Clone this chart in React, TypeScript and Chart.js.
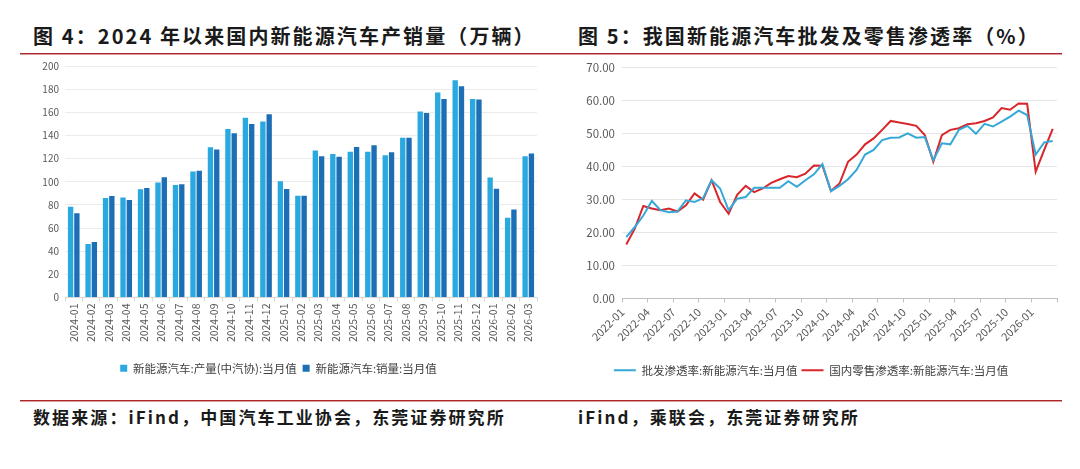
import React, { useEffect, useRef } from "react";
import { Chart, registerables } from "chart.js";

Chart.register(...registerables);

const FONT = "'Noto Sans CJK SC', 'Noto Sans', sans-serif";

// ---- Figure 4 data (万辆) ----
const barMonths = [
  "2024-01", "2024-02", "2024-03", "2024-04", "2024-05", "2024-06", "2024-07", "2024-08", "2024-09",
  "2024-10", "2024-11", "2024-12", "2025-01", "2025-02", "2025-03", "2025-04", "2025-05", "2025-06",
  "2025-07", "2025-08", "2025-09", "2025-10", "2025-11", "2025-12", "2026-01", "2026-02", "2026-03",
];
const productionValues = [
  78.5, 46.2, 86, 86.3, 93.5, 99.3, 97.3, 108.8, 129.9, 145.5, 155.3, 152, 100.4, 88, 127, 124, 126, 126,
  123, 138, 160.7, 177, 187.6, 171.4, 103.6, 69, 122,
];
const salesValues = [
  72.7, 47.9, 87.7, 84.3, 94.7, 103.9, 97.8, 109.4, 127.8, 142, 150, 158.4, 93.8, 88, 122, 121.5, 130, 131.6,
  125.5, 138, 159.3, 171.4, 182.4, 171, 94, 76, 124.4,
];
const barSeriesNames = ["新能源汽车:产量(中汽协):当月值", "新能源汽车:销量:当月值"];

// ---- Figure 5 data (%) ----
const lineMonths = [
  "2022-01", "2022-02", "2022-03", "2022-04", "2022-05", "2022-06", "2022-07", "2022-08", "2022-09", "2022-10", "2022-11", "2022-12",
  "2023-01", "2023-02", "2023-03", "2023-04", "2023-05", "2023-06", "2023-07", "2023-08", "2023-09", "2023-10", "2023-11", "2023-12",
  "2024-01", "2024-02", "2024-03", "2024-04", "2024-05", "2024-06", "2024-07", "2024-08", "2024-09", "2024-10", "2024-11", "2024-12",
  "2025-01", "2025-02", "2025-03", "2025-04", "2025-05", "2025-06", "2025-07", "2025-08", "2025-09", "2025-10", "2025-11", "2025-12",
  "2026-01", "2026-02", "2026-03",
];
const wholesaleRate = [
  18.6, 21.7, 25.2, 29.6, 26.8, 26.2, 26.4, 29.8, 29.3, 30.4, 35.9, 33.4,
  26.8, 30.3, 30.8, 33.6, 33.6, 33.6, 33.6, 35.6, 33.9, 35.9, 37.7, 40.8,
  32.6, 34.2, 36.2, 39.0, 43.7, 45.1, 48.1, 48.8, 48.9, 50.1, 48.8, 49.0,
  42.0, 47.1, 46.8, 51.2, 52.4, 50.0, 53.0, 52.2, 53.7, 55.2, 57.0, 55.7,
  43.7, 47.4, 47.8,
];
const retailRate = [
  16.4, 21.2, 28.1, 27.3, 26.8, 27.3, 26.4, 28.3, 31.9, 30.0, 35.9, 29.3,
  25.7, 31.5, 34.2, 32.3, 33.4, 35.1, 36.2, 37.2, 36.8, 37.9, 40.4, 40.3,
  32.6, 34.9, 41.5, 43.7, 46.8, 48.6, 51.2, 53.9, 53.4, 53.0, 52.4, 49.6,
  41.5, 49.6, 51.2, 51.7, 52.9, 53.2, 53.9, 55.0, 57.8, 57.3, 59.2, 59.1,
  38.5, 45.1, 51.5,
];
const lineSeriesNames = ["批发渗透率:新能源汽车:当月值", "国内零售渗透率:新能源汽车:当月值"];

function BarChart() {
  const ref = useRef<HTMLCanvasElement>(null);
  useEffect(() => {
    const chart = new Chart(ref.current!, {
      type: "bar",
      data: {
        labels: barMonths,
        datasets: [
          { label: barSeriesNames[0], data: productionValues, backgroundColor: "#2AA8E0", categoryPercentage: 0.72, barPercentage: 0.85 },
          { label: barSeriesNames[1], data: salesValues, backgroundColor: "#1D6FB5", categoryPercentage: 0.72, barPercentage: 0.85 },
        ],
      },
      options: {
        responsive: false,
        animation: false,
        devicePixelRatio: 1,
        layout: { padding: { top: 4, right: 13, bottom: 2, left: 0 } },
        plugins: {
          legend: {
            position: "bottom",
            labels: { boxWidth: 7, boxHeight: 7, padding: 6, color: "#404040", font: { family: FONT, size: 11.5 } },
          },
          tooltip: { enabled: false },
        },
        scales: {
          x: {
            grid: { drawOnChartArea: false, drawTicks: true, tickLength: 4, color: "#D9D9D9", offset: true },
            border: { color: "#D9D9D9" },
            ticks: { autoSkip: false, minRotation: 90, maxRotation: 90, color: "#595959", font: { family: FONT, size: 10.5 }, padding: 2 },
            afterFit: (s: any) => { s.height = 59; },
          },
          y: {
            min: 0,
            max: 200,
            ticks: { stepSize: 20, color: "#595959", font: { family: FONT, size: 10 }, padding: 6 },
            grid: { color: "#EBEBEB", drawTicks: false },
            border: { display: false },
            afterFit: (s: any) => { s.width = 45; },
          },
        },
      },
    });
    return () => chart.destroy();
  }, []);
  return <canvas ref={ref} width={530} height={332} style={{ width: 530, height: 332 }} />;
}

function LineChart() {
  const ref = useRef<HTMLCanvasElement>(null);
  useEffect(() => {
    const chart = new Chart(ref.current!, {
      type: "line",
      data: {
        labels: lineMonths,
        datasets: [
          { label: lineSeriesNames[0], data: wholesaleRate, borderColor: "#35A8D8", backgroundColor: "#35A8D8", borderWidth: 2, pointRadius: 0, tension: 0 },
          { label: lineSeriesNames[1], data: retailRate, borderColor: "#D8262C", backgroundColor: "#D8262C", borderWidth: 2, pointRadius: 0, tension: 0 },
        ],
      },
      options: {
        responsive: false,
        animation: false,
        devicePixelRatio: 1,
        layout: { padding: { top: 4, right: 13, bottom: 2, left: 0 } },
        plugins: {
          legend: {
            position: "bottom",
            labels: {
              usePointStyle: true,
              pointStyle: "line",
              pointStyleWidth: 22,
              padding: 4,
              color: "#404040",
              font: { family: FONT, size: 11.5 },
            },
          },
          tooltip: { enabled: false },
        },
        scales: {
          x: {
            offset: true,
            grid: {
              drawOnChartArea: false,
              drawTicks: true,
              tickLength: 4,
              offset: true,
              color: (ctx: any) => (ctx.type !== "tick" || ctx.index % 3 === 0 ? "#BFBFBF" : "rgba(0,0,0,0)"),
            },
            border: { color: "#BFBFBF" },
            ticks: {
              autoSkip: false,
              minRotation: 45,
              maxRotation: 45,
              labelOffset: -4,
              color: "#595959",
              font: { family: FONT, size: 11 },
              callback: function (this: any, _v: any, i: number) {
                return i % 3 === 0 ? lineMonths[i] : "";
              },
            },
            afterFit: (s: any) => { s.height = 62; },
          },
          y: {
            min: 0,
            max: 70,
            ticks: {
              stepSize: 10,
              color: "#595959",
              font: { family: FONT, size: 11.5 },
              padding: 7,
              callback: (v: any) => Number(v).toFixed(2),
            },
            grid: { color: "#E6E6E6", drawTicks: false },
            border: { display: false },
            afterFit: (s: any) => { s.width = 57; },
          },
        },
      },
    });
    return () => chart.destroy();
  }, []);
  return <canvas ref={ref} width={505} height={334} style={{ width: 505, height: 334 }} />;
}

const titleStyle: React.CSSProperties = {
  position: "absolute",
  top: 24,
  fontFamily: FONT,
  fontWeight: 700,
  fontSize: 20,
  lineHeight: "24px",
  letterSpacing: "2.1px",
  color: "#1a1a1a",
  whiteSpace: "nowrap",
};
const footStyle: React.CSSProperties = {
  position: "absolute",
  top: 405,
  fontFamily: FONT,
  fontWeight: 700,
  fontSize: 17,
  lineHeight: "24px",
  letterSpacing: "2.1px",
  color: "#1a1a1a",
  whiteSpace: "nowrap",
};
const ruleStyle = (top: number): React.CSSProperties => ({
  position: "absolute",
  top,
  left: 20,
  width: 1042,
  height: 1,
  background: "#A8282B",
  borderBottom: "1px solid #DE9A9A",
});

export default function App() {
  return (
    <div style={{ position: "absolute", left: 0, top: 0, width: 1080, height: 469, background: "#fff", overflow: "hidden" }}>
      <div style={{ ...titleStyle, left: 33 }}>图 4：2024 年以来国内新能源汽车产销量（万辆）</div>
      <div style={{ ...titleStyle, left: 578 }}>图 5：我国新能源汽车批发及零售渗透率（%）</div>
      <div style={ruleStyle(53)} />
      <div style={{ position: "absolute", left: 20, top: 54 }}>
        <BarChart />
      </div>
      <div style={{ position: "absolute", left: 565, top: 54 }}>
        <LineChart />
      </div>
      <div style={ruleStyle(400)} />
      <div style={{ ...footStyle, left: 33 }}>数据来源：iFind，中国汽车工业协会，东莞证券研究所</div>
      <div style={{ ...footStyle, left: 578 }}>iFind，乘联会，东莞证券研究所</div>
    </div>
  );
}
